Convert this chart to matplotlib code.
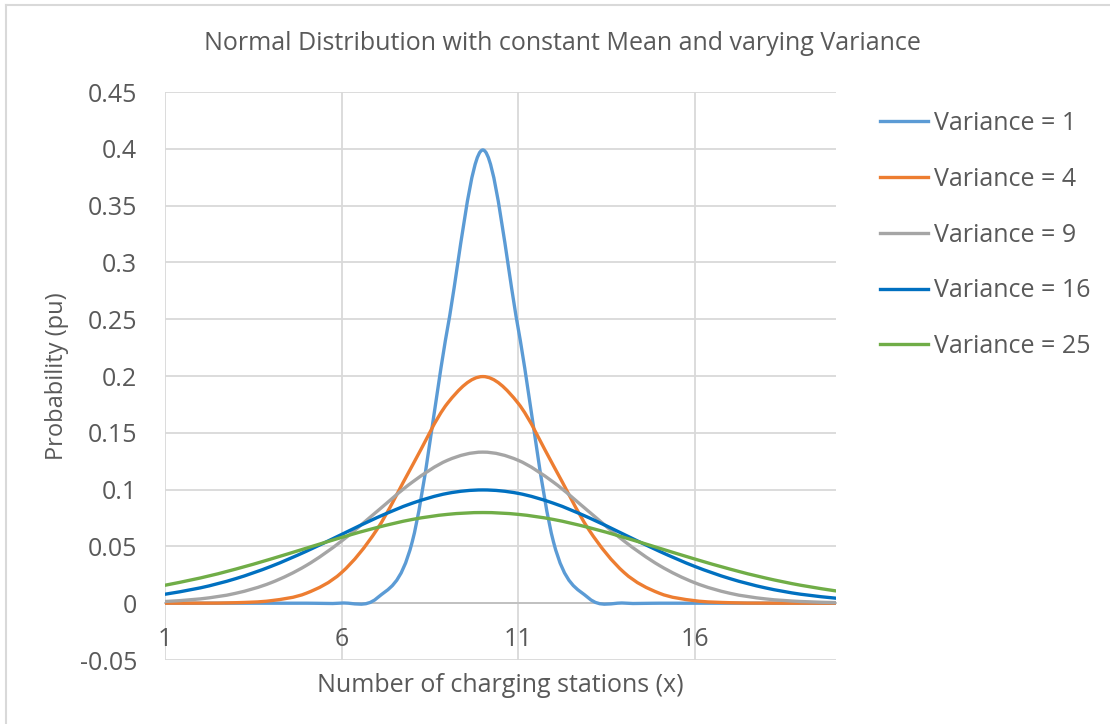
import matplotlib
matplotlib.use("Agg")
import matplotlib.pyplot as plt
from matplotlib.path import Path
from matplotlib.patches import PathPatch
from matplotlib.lines import Line2D
import numpy as np

plt.rcParams['font.family'] = ['Open Sans', 'DejaVu Sans']

x = list(range(1, 21))
var1 = [0.0, 0.0, 0.0, 0.0, 0.0, 0.0001, 0.0044, 0.054, 0.242, 0.399,
        0.242, 0.054, 0.0044, 0.0001, 0.0, 0.0, 0.0, 0.0, 0.0, 0.0]
var4 = [0.0000079, 0.0000669, 0.00044, 0.00222, 0.00876, 0.027, 0.0648, 0.121, 0.176, 0.1995,
        0.176, 0.121, 0.0648, 0.027, 0.00876, 0.00222, 0.00044, 0.0000669, 0.0000079, 0.0000007]
var9 = [0.0015, 0.0038, 0.0087, 0.018, 0.0332, 0.0547, 0.0807, 0.1065, 0.1258, 0.133,
        0.1258, 0.1065, 0.0807, 0.0547, 0.0332, 0.018, 0.0087, 0.0038, 0.0015, 0.00051]
var16 = [0.0079, 0.0135, 0.0216, 0.0324, 0.0457, 0.0605, 0.0753, 0.088, 0.0967, 0.0997,
         0.0967, 0.088, 0.0753, 0.0605, 0.0457, 0.0324, 0.0216, 0.0135, 0.0079, 0.0044]
var25 = [0.0158, 0.0222, 0.0300, 0.0389, 0.0484, 0.0579, 0.0666, 0.0737, 0.0782, 0.0798,
         0.0782, 0.0737, 0.0666, 0.0579, 0.0484, 0.0389, 0.0300, 0.0222, 0.0158, 0.0108]

labels = ["Variance = 1", "Variance = 4", "Variance = 9", "Variance = 16", "Variance = 25"]
series = [var1, var4, var9, var16, var25]
colors = ["#5B9BD5", "#ED7D31", "#A5A5A5", "#0070C0", "#70AD47"]

yticks = [-0.05, 0, 0.05, 0.1, 0.15, 0.2, 0.25, 0.3, 0.35, 0.4, 0.45]
ytick_labels = ["-0.05", "0", "0.05", "0.1", "0.15", "0.2", "0.25", "0.3", "0.35", "0.4", "0.45"]
xticks = [1, 6, 11, 16]

TXT = "#595959"
GRID = "#D9D9D9"
FS = 18

fig = plt.figure(figsize=(11.10, 7.24), dpi=100)
ax = fig.add_axes([165/1110, 64/724, 671/1110, 568/724])


def smooth_path(xs, ys):
    xs = np.asarray(xs, float)
    ys = np.asarray(ys, float)
    n = len(xs)
    verts = [(xs[0], ys[0])]
    codes = [Path.MOVETO]
    for i in range(n - 1):
        p0 = (xs[max(i - 1, 0)], ys[max(i - 1, 0)])
        p1 = (xs[i], ys[i])
        p2 = (xs[i + 1], ys[i + 1])
        p3 = (xs[min(i + 2, n - 1)], ys[min(i + 2, n - 1)])
        c1 = (p1[0] + (p2[0] - p0[0]) / 6, p1[1] + (p2[1] - p0[1]) / 6)
        c2 = (p2[0] - (p3[0] - p1[0]) / 6, p2[1] - (p3[1] - p1[1]) / 6)
        verts += [c1, c2, p2]
        codes += [Path.CURVE4] * 3
    return Path(verts, codes)


for ys, c in zip(series, colors):
    patch = PathPatch(smooth_path(x, ys), facecolor='none', edgecolor=c, lw=2.4,
                      capstyle='round', joinstyle='round', zorder=3)
    ax.add_patch(patch)

ax.set_xlim(1, 20)
ax.set_ylim(-0.05, 0.45)
ax.set_yticks(yticks)
ax.set_yticklabels(ytick_labels)
ax.set_xticks(xticks)
ax.set_xticklabels([str(v) for v in xticks])

for s in ['top', 'right', 'left']:
    ax.spines[s].set_visible(False)
ax.spines['bottom'].set_position(('data', 0))
ax.spines['bottom'].set_color('#BFBFBF')
ax.spines['bottom'].set_linewidth(1.3)
ax.spines['bottom'].set_zorder(2)

ax.grid(True, color=GRID, lw=1.3, zorder=0)
ax.set_axisbelow(True)
ax.tick_params(axis='both', length=0, labelsize=FS, labelcolor=TXT)
ax.tick_params(axis='y', pad=20)
ax.tick_params(axis='x', pad=17)

ax.set_ylabel("Probability (pu)", fontsize=17, color=TXT)
ax.yaxis.set_label_coords((69 - 165) / 671, 0.5)
fig.text(500/1110, 1 - 686/724, "Number of charging stations (x)", fontsize=FS, color=TXT,
         ha='center', va='center')
fig.text(562/1110, 1 - 44/724, "Normal Distribution with constant Mean and varying Variance",
         fontsize=18, color=TXT, ha='center', va='center')

handles = [Line2D([], [], color=c, lw=2.4) for c in colors]
fig.legend(handles, labels, loc='upper left', bbox_to_anchor=(880/1110, 1 - 111/724),
           frameon=False, fontsize=FS, labelcolor=TXT, handlelength=1.92,
           handletextpad=0.25, labelspacing=1.23, borderpad=0, borderaxespad=0)

# chart border (left and top edges visible)
fig.add_artist(Line2D([6/1110, 6/1110], [0, 1 - 5/724], transform=fig.transFigure,
                      color=GRID, lw=1.5))
fig.add_artist(Line2D([6/1110, 1], [1 - 5/724, 1 - 5/724], transform=fig.transFigure,
                      color=GRID, lw=1.5))

fig.savefig("out.png", dpi=100, facecolor='white')
